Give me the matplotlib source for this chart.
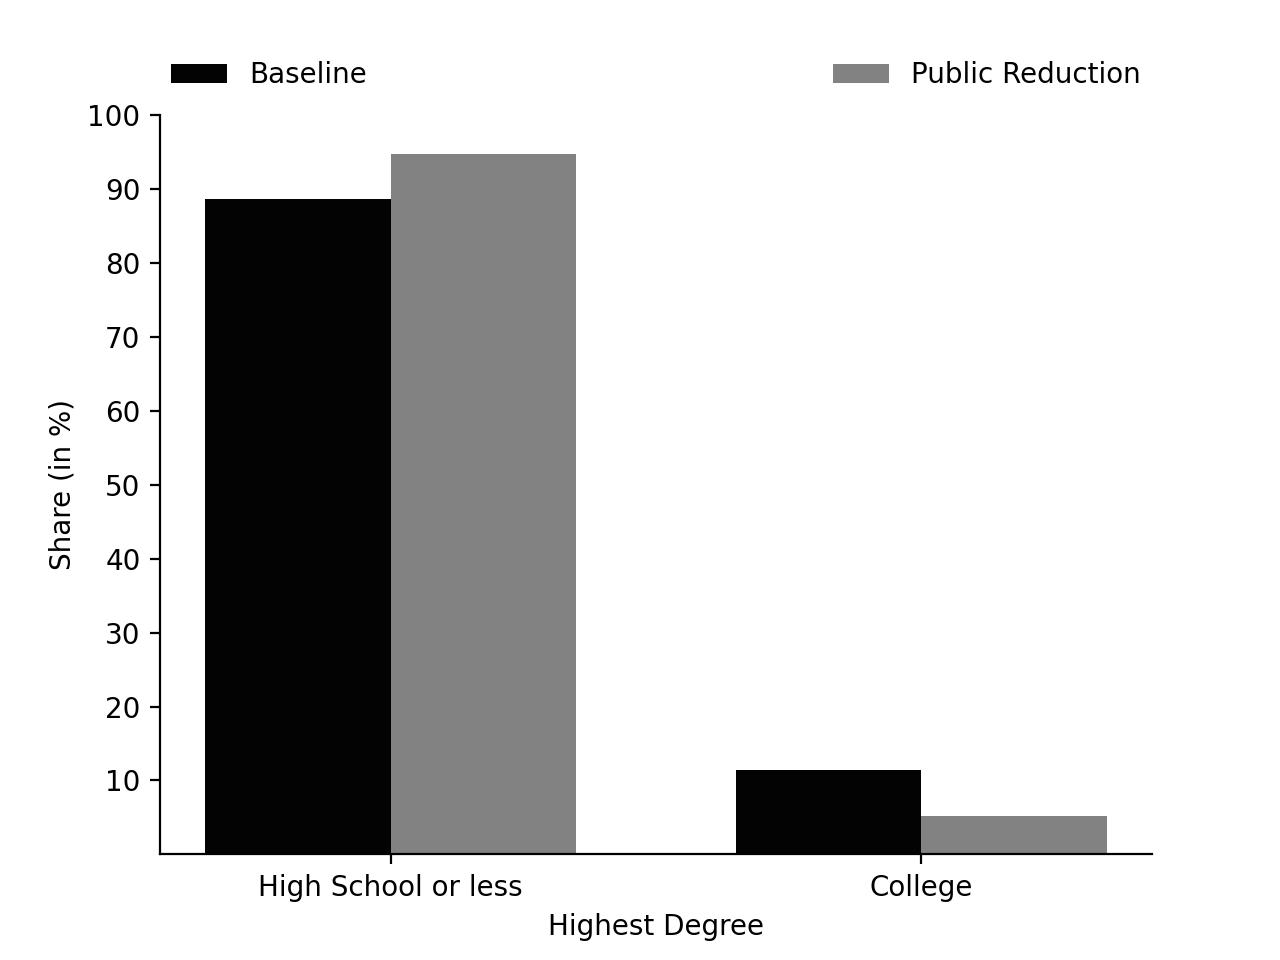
import matplotlib
matplotlib.use('Agg')
import matplotlib.pyplot as plt
import numpy as np

categories = ['High School or less', 'College']
baseline = [88.6, 11.4]
public_reduction = [94.8, 5.2]

x = np.arange(len(categories))
width = 0.35

fig, ax = plt.subplots(figsize=(6.4, 4.8), dpi=200)

ax.bar(x, baseline, -width, align='edge', color='#030303', label='Baseline')
ax.bar(x, public_reduction, width, align='edge', color='#828282', label='Public Reduction')

ax.set_xticks(x)
ax.set_xticklabels(categories)
ax.set_yticks(np.arange(10, 101, 10))
ax.set_ylim(0, 100)
ax.set_xlabel('Highest Degree')
ax.set_ylabel('Share (in %)')

ax.spines['top'].set_visible(False)
ax.spines['right'].set_visible(False)

ax.legend(bbox_to_anchor=(0, 1.02, 1, 0.102), loc='lower left', ncol=2,
          mode='expand', borderaxespad=0, frameon=False)

plt.savefig('out.png', dpi=200)
